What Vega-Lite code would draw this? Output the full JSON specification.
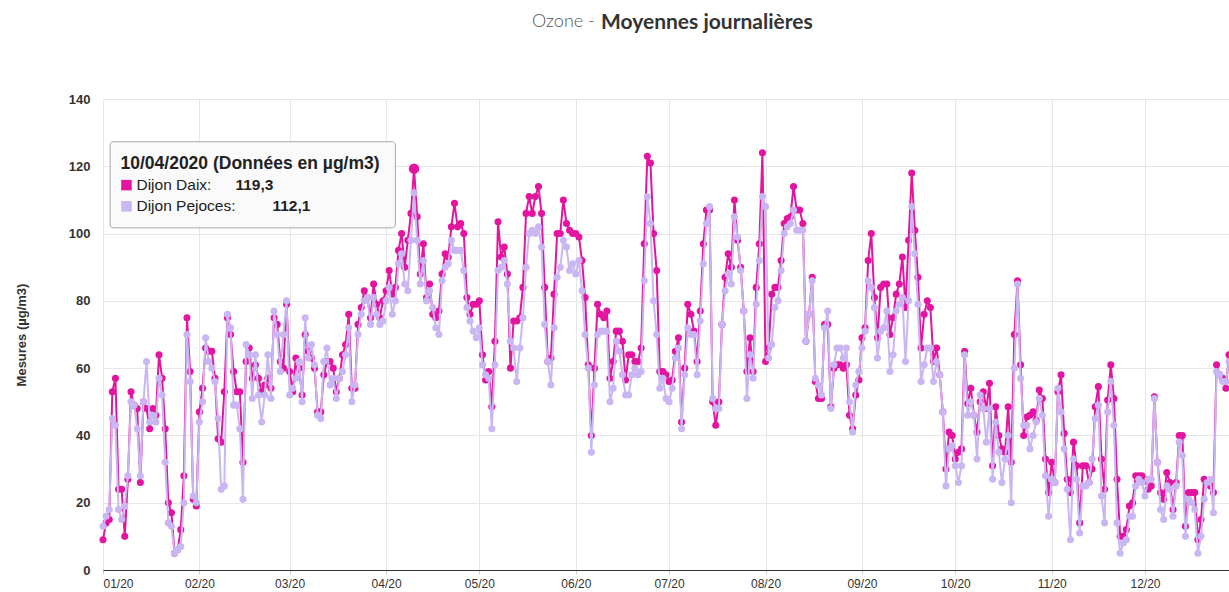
{
  "$schema": "https://vega.github.io/schema/vega-lite/v6.json",
  "width": 1126,
  "height": 471,
  "autosize": {"type": "none"},
  "padding": {"left": 103, "top": 99, "right": 0, "bottom": 22},
  "background": "white",
  "config": {"view": {"stroke": null}, "font": "Liberation Sans"},
  "title": {
    "text": "Moyennes journalières",
    "subtitle": "Ozone -",
    "anchor": "start",
    "frame": "group",
    "dx": 429,
    "offset": 60,
    "font": "Lato",
    "fontSize": 21,
    "fontWeight": "bold",
    "color": "#333333",
    "lineHeight": 22,
    "subtitleFont": "Lato",
    "subtitleFontSize": 18,
    "subtitleFontWeight": 300,
    "subtitleColor": "#555555",
    "subtitleLineHeight": 22,
    "subtitlePadding": -20,
    "encoding": {"dx": {"value": 498}}
  },
  "data": {
    "values": [
      {"date":"2020-01-01","daix":9,"pejoces":13},{"date":"2020-01-02","daix":14,"pejoces":16},{"date":"2020-01-03","daix":15,"pejoces":18},{"date":"2020-01-04","daix":53,"pejoces":45},{"date":"2020-01-05","daix":57,"pejoces":43},{"date":"2020-01-06","daix":24,"pejoces":18},{"date":"2020-01-07","daix":24,"pejoces":15},{"date":"2020-01-08","daix":10,"pejoces":19},{"date":"2020-01-09","daix":27,"pejoces":28},{"date":"2020-01-10","daix":53,"pejoces":50},
      {"date":"2020-01-11","daix":49,"pejoces":49},{"date":"2020-01-12","daix":48,"pejoces":42},{"date":"2020-01-13","daix":26,"pejoces":28},{"date":"2020-01-14","daix":50,"pejoces":50},{"date":"2020-01-15","daix":48,"pejoces":62},{"date":"2020-01-16","daix":42,"pejoces":44},{"date":"2020-01-17","daix":48,"pejoces":46},{"date":"2020-01-18","daix":46,"pejoces":44},{"date":"2020-01-19","daix":64,"pejoces":57},{"date":"2020-01-20","daix":57,"pejoces":52},
      {"date":"2020-01-21","daix":42,"pejoces":32},{"date":"2020-01-22","daix":20,"pejoces":14},{"date":"2020-01-23","daix":17,"pejoces":13},{"date":"2020-01-24","daix":5,"pejoces":5},{"date":"2020-01-25","daix":6,"pejoces":6},{"date":"2020-01-26","daix":12,"pejoces":7},{"date":"2020-01-27","daix":28,"pejoces":20},{"date":"2020-01-28","daix":75,"pejoces":70},{"date":"2020-01-29","daix":59,"pejoces":56},{"date":"2020-01-30","daix":21,"pejoces":22},{"date":"2020-01-31","daix":19,"pejoces":20},
      {"date":"2020-02-01","daix":47,"pejoces":44},{"date":"2020-02-02","daix":54,"pejoces":50},{"date":"2020-02-03","daix":66,"pejoces":69},{"date":"2020-02-04","daix":65,"pejoces":62},{"date":"2020-02-05","daix":65,"pejoces":60},{"date":"2020-02-06","daix":57,"pejoces":56},{"date":"2020-02-07","daix":39,"pejoces":45},{"date":"2020-02-08","daix":38,"pejoces":24},{"date":"2020-02-09","daix":53,"pejoces":25},{"date":"2020-02-10","daix":75,"pejoces":76},
      {"date":"2020-02-11","daix":70,"pejoces":72},{"date":"2020-02-12","daix":59,"pejoces":49},{"date":"2020-02-13","daix":53,"pejoces":49},{"date":"2020-02-14","daix":53,"pejoces":42},{"date":"2020-02-15","daix":32,"pejoces":21},{"date":"2020-02-16","daix":62,"pejoces":67},{"date":"2020-02-17","daix":66,"pejoces":64},{"date":"2020-02-18","daix":57,"pejoces":51},{"date":"2020-02-19","daix":61,"pejoces":64},{"date":"2020-02-20","daix":57,"pejoces":52},
      {"date":"2020-02-21","daix":53,"pejoces":44},{"date":"2020-02-22","daix":55,"pejoces":52},{"date":"2020-02-23","daix":57,"pejoces":64},{"date":"2020-02-24","daix":54,"pejoces":51},{"date":"2020-02-25","daix":75,"pejoces":77},{"date":"2020-02-26","daix":73,"pejoces":70},{"date":"2020-02-27","daix":62,"pejoces":59},{"date":"2020-02-28","daix":60,"pejoces":70},{"date":"2020-02-29","daix":79,"pejoces":80},
      {"date":"2020-03-01","daix":59,"pejoces":52},{"date":"2020-03-02","daix":53,"pejoces":54},{"date":"2020-03-03","daix":63,"pejoces":57},{"date":"2020-03-04","daix":60,"pejoces":62},{"date":"2020-03-05","daix":52,"pejoces":50},{"date":"2020-03-06","daix":70,"pejoces":75},{"date":"2020-03-07","daix":65,"pejoces":63},{"date":"2020-03-08","daix":63,"pejoces":67},{"date":"2020-03-09","daix":60,"pejoces":61},{"date":"2020-03-10","daix":47,"pejoces":46},
      {"date":"2020-03-11","daix":47,"pejoces":45},{"date":"2020-03-12","daix":58,"pejoces":62},{"date":"2020-03-13","daix":62,"pejoces":66},{"date":"2020-03-14","daix":62,"pejoces":55},{"date":"2020-03-15","daix":60,"pejoces":57},{"date":"2020-03-16","daix":53,"pejoces":51},{"date":"2020-03-17","daix":57,"pejoces":57},{"date":"2020-03-18","daix":64,"pejoces":59},{"date":"2020-03-19","daix":67,"pejoces":64},{"date":"2020-03-20","daix":76,"pejoces":72},
      {"date":"2020-03-21","daix":54,"pejoces":50},{"date":"2020-03-22","daix":54,"pejoces":55},{"date":"2020-03-23","daix":73,"pejoces":70},{"date":"2020-03-24","daix":78,"pejoces":76},{"date":"2020-03-25","daix":83,"pejoces":80},{"date":"2020-03-26","daix":81,"pejoces":81},{"date":"2020-03-27","daix":75,"pejoces":73},{"date":"2020-03-28","daix":85,"pejoces":81},{"date":"2020-03-29","daix":79,"pejoces":76},{"date":"2020-03-30","daix":75,"pejoces":73},{"date":"2020-03-31","daix":80,"pejoces":74},
      {"date":"2020-04-01","daix":83,"pejoces":80},{"date":"2020-04-02","daix":89,"pejoces":84},{"date":"2020-04-03","daix":82,"pejoces":76},{"date":"2020-04-04","daix":84,"pejoces":80},{"date":"2020-04-05","daix":95,"pejoces":91},{"date":"2020-04-06","daix":100,"pejoces":94},{"date":"2020-04-07","daix":90,"pejoces":85},{"date":"2020-04-08","daix":98,"pejoces":83},{"date":"2020-04-09","daix":106,"pejoces":98},{"date":"2020-04-10","daix":119.3,"pejoces":112.1},
      {"date":"2020-04-11","daix":105,"pejoces":98},{"date":"2020-04-12","daix":88,"pejoces":85},{"date":"2020-04-13","daix":97,"pejoces":92},{"date":"2020-04-14","daix":81,"pejoces":80},{"date":"2020-04-15","daix":85,"pejoces":83},{"date":"2020-04-16","daix":76,"pejoces":78},{"date":"2020-04-17","daix":75,"pejoces":72},{"date":"2020-04-18","daix":77,"pejoces":70},{"date":"2020-04-19","daix":88,"pejoces":86},{"date":"2020-04-20","daix":94,"pejoces":90},
      {"date":"2020-04-21","daix":93,"pejoces":91},{"date":"2020-04-22","daix":102,"pejoces":98},{"date":"2020-04-23","daix":109,"pejoces":95},{"date":"2020-04-24","daix":102,"pejoces":95},{"date":"2020-04-25","daix":103,"pejoces":95},{"date":"2020-04-26","daix":100,"pejoces":89},{"date":"2020-04-27","daix":81,"pejoces":78},{"date":"2020-04-28","daix":76,"pejoces":74},{"date":"2020-04-29","daix":79,"pejoces":71},{"date":"2020-04-30","daix":79,"pejoces":69},
      {"date":"2020-05-01","daix":80,"pejoces":72},{"date":"2020-05-02","daix":64,"pejoces":61},{"date":"2020-05-03","daix":56.5,"pejoces":58},{"date":"2020-05-04","daix":59,"pejoces":57},{"date":"2020-05-05","daix":48.5,"pejoces":42},{"date":"2020-05-06","daix":68,"pejoces":61},{"date":"2020-05-07","daix":103.5,"pejoces":89},{"date":"2020-05-08","daix":93,"pejoces":90},{"date":"2020-05-09","daix":96,"pejoces":92},{"date":"2020-05-10","daix":88,"pejoces":85},
      {"date":"2020-05-11","daix":60,"pejoces":68},{"date":"2020-05-12","daix":74,"pejoces":66},{"date":"2020-05-13","daix":74,"pejoces":56},{"date":"2020-05-14","daix":75,"pejoces":66},{"date":"2020-05-15","daix":84,"pejoces":75},{"date":"2020-05-16","daix":106,"pejoces":90},{"date":"2020-05-17","daix":111,"pejoces":100},{"date":"2020-05-18","daix":106,"pejoces":101},{"date":"2020-05-19","daix":111,"pejoces":100},{"date":"2020-05-20","daix":114,"pejoces":102},
      {"date":"2020-05-21","daix":106,"pejoces":96},{"date":"2020-05-22","daix":84,"pejoces":73},{"date":"2020-05-23","daix":62,"pejoces":62},{"date":"2020-05-24","daix":63,"pejoces":55},{"date":"2020-05-25","daix":82,"pejoces":72},{"date":"2020-05-26","daix":100,"pejoces":87},{"date":"2020-05-27","daix":100,"pejoces":90},{"date":"2020-05-28","daix":110,"pejoces":98},{"date":"2020-05-29","daix":103,"pejoces":96},{"date":"2020-05-30","daix":101,"pejoces":89},{"date":"2020-05-31","daix":100,"pejoces":91},
      {"date":"2020-06-01","daix":100,"pejoces":88},{"date":"2020-06-02","daix":99,"pejoces":92},{"date":"2020-06-03","daix":92,"pejoces":83},{"date":"2020-06-04","daix":81,"pejoces":70},{"date":"2020-06-05","daix":61,"pejoces":60},{"date":"2020-06-06","daix":40,"pejoces":35},{"date":"2020-06-07","daix":60,"pejoces":55},{"date":"2020-06-08","daix":79,"pejoces":70},{"date":"2020-06-09","daix":76,"pejoces":71},{"date":"2020-06-10","daix":75,"pejoces":71},
      {"date":"2020-06-11","daix":77,"pejoces":71},{"date":"2020-06-12","daix":57,"pejoces":50},{"date":"2020-06-13","daix":62,"pejoces":54},{"date":"2020-06-14","daix":71,"pejoces":68},{"date":"2020-06-15","daix":71,"pejoces":65},{"date":"2020-06-16","daix":68,"pejoces":58},{"date":"2020-06-17","daix":56.5,"pejoces":52},{"date":"2020-06-18","daix":64,"pejoces":52},{"date":"2020-06-19","daix":64,"pejoces":58},{"date":"2020-06-20","daix":62,"pejoces":60},
      {"date":"2020-06-21","daix":62,"pejoces":58},{"date":"2020-06-22","daix":66,"pejoces":59},{"date":"2020-06-23","daix":97,"pejoces":86},{"date":"2020-06-24","daix":123,"pejoces":111},{"date":"2020-06-25","daix":121,"pejoces":103},{"date":"2020-06-26","daix":100,"pejoces":80},{"date":"2020-06-27","daix":89,"pejoces":70},{"date":"2020-06-28","daix":59,"pejoces":54},{"date":"2020-06-29","daix":59,"pejoces":57},{"date":"2020-06-30","daix":58,"pejoces":51},
      {"date":"2020-07-01","daix":56,"pejoces":50},{"date":"2020-07-02","daix":56.5,"pejoces":54},{"date":"2020-07-03","daix":65,"pejoces":63},{"date":"2020-07-04","daix":69,"pejoces":66},{"date":"2020-07-05","daix":44,"pejoces":42},{"date":"2020-07-06","daix":60,"pejoces":58},{"date":"2020-07-07","daix":79,"pejoces":72},{"date":"2020-07-08","daix":76,"pejoces":70},{"date":"2020-07-09","daix":71,"pejoces":70},{"date":"2020-07-10","daix":62,"pejoces":58},
      {"date":"2020-07-11","daix":77,"pejoces":74},{"date":"2020-07-12","daix":97,"pejoces":91},{"date":"2020-07-13","daix":107,"pejoces":103},{"date":"2020-07-14","daix":107,"pejoces":108},{"date":"2020-07-15","daix":50,"pejoces":51},{"date":"2020-07-16","daix":43,"pejoces":48},{"date":"2020-07-17","daix":50,"pejoces":48},{"date":"2020-07-18","daix":73,"pejoces":73},{"date":"2020-07-19","daix":87,"pejoces":83},{"date":"2020-07-20","daix":94,"pejoces":88},
      {"date":"2020-07-21","daix":90,"pejoces":85},{"date":"2020-07-22","daix":110,"pejoces":105},{"date":"2020-07-23","daix":98,"pejoces":99},{"date":"2020-07-24","daix":90,"pejoces":89},{"date":"2020-07-25","daix":77,"pejoces":77},{"date":"2020-07-26","daix":59,"pejoces":51},{"date":"2020-07-27","daix":69,"pejoces":64},{"date":"2020-07-28","daix":59,"pejoces":57},{"date":"2020-07-29","daix":84,"pejoces":79},{"date":"2020-07-30","daix":97,"pejoces":92},{"date":"2020-07-31","daix":124,"pejoces":111},
      {"date":"2020-08-01","daix":62,"pejoces":108},{"date":"2020-08-02","daix":66,"pejoces":63},{"date":"2020-08-03","daix":82,"pejoces":67},{"date":"2020-08-04","daix":84,"pejoces":78},{"date":"2020-08-05","daix":84,"pejoces":80},{"date":"2020-08-06","daix":92,"pejoces":89},{"date":"2020-08-07","daix":103,"pejoces":100},{"date":"2020-08-08","daix":104.5,"pejoces":102},{"date":"2020-08-09","daix":105,"pejoces":103},{"date":"2020-08-10","daix":114,"pejoces":107},
      {"date":"2020-08-11","daix":107,"pejoces":101},{"date":"2020-08-12","daix":107,"pejoces":101},{"date":"2020-08-13","daix":103,"pejoces":101},{"date":"2020-08-14","daix":68,"pejoces":68},{"date":"2020-08-15","daix":76,"pejoces":76},{"date":"2020-08-16","daix":87,"pejoces":86},{"date":"2020-08-17","daix":56,"pejoces":57},{"date":"2020-08-18","daix":51,"pejoces":55},{"date":"2020-08-19","daix":51,"pejoces":52},{"date":"2020-08-20","daix":73,"pejoces":72},
      {"date":"2020-08-21","daix":73,"pejoces":77},{"date":"2020-08-22","daix":48.5,"pejoces":48},{"date":"2020-08-23","daix":60,"pejoces":61},{"date":"2020-08-24","daix":61,"pejoces":66},{"date":"2020-08-25","daix":61,"pejoces":66},{"date":"2020-08-26","daix":60,"pejoces":63},{"date":"2020-08-27","daix":61,"pejoces":66},{"date":"2020-08-28","daix":46,"pejoces":50},{"date":"2020-08-29","daix":42,"pejoces":41},{"date":"2020-08-30","daix":52,"pejoces":55},{"date":"2020-08-31","daix":56.5,"pejoces":59},
      {"date":"2020-09-01","daix":69,"pejoces":66},{"date":"2020-09-02","daix":72,"pejoces":71},{"date":"2020-09-03","daix":92,"pejoces":86},{"date":"2020-09-04","daix":100,"pejoces":84},{"date":"2020-09-05","daix":81,"pejoces":78},{"date":"2020-09-06","daix":69,"pejoces":63},{"date":"2020-09-07","daix":84,"pejoces":71},{"date":"2020-09-08","daix":85,"pejoces":72},{"date":"2020-09-09","daix":85,"pejoces":77},{"date":"2020-09-10","daix":70,"pejoces":59},
      {"date":"2020-09-11","daix":75,"pejoces":64},{"date":"2020-09-12","daix":82,"pejoces":77},{"date":"2020-09-13","daix":85,"pejoces":79},{"date":"2020-09-14","daix":93,"pejoces":81},{"date":"2020-09-15","daix":78,"pejoces":62},{"date":"2020-09-16","daix":98,"pejoces":80},{"date":"2020-09-17","daix":118,"pejoces":108},{"date":"2020-09-18","daix":101,"pejoces":94},{"date":"2020-09-19","daix":87,"pejoces":79},{"date":"2020-09-20","daix":66,"pejoces":56},
      {"date":"2020-09-21","daix":76,"pejoces":61},{"date":"2020-09-22","daix":80,"pejoces":66},{"date":"2020-09-23","daix":78,"pejoces":66},{"date":"2020-09-24","daix":62,"pejoces":56},{"date":"2020-09-25","daix":66,"pejoces":62},{"date":"2020-09-26","daix":58,"pejoces":58},{"date":"2020-09-27","daix":47,"pejoces":47},{"date":"2020-09-28","daix":30,"pejoces":25},{"date":"2020-09-29","daix":41,"pejoces":36},{"date":"2020-09-30","daix":40,"pejoces":37},
      {"date":"2020-10-01","daix":33,"pejoces":31},{"date":"2020-10-02","daix":35,"pejoces":26},{"date":"2020-10-03","daix":36,"pejoces":31},{"date":"2020-10-04","daix":65,"pejoces":64},{"date":"2020-10-05","daix":49.5,"pejoces":46},{"date":"2020-10-06","daix":54,"pejoces":50},{"date":"2020-10-07","daix":46,"pejoces":46},{"date":"2020-10-08","daix":41,"pejoces":33},{"date":"2020-10-09","daix":50,"pejoces":52},{"date":"2020-10-10","daix":53,"pejoces":48},
      {"date":"2020-10-11","daix":48,"pejoces":38},{"date":"2020-10-12","daix":55.5,"pejoces":48},{"date":"2020-10-13","daix":31,"pejoces":27},{"date":"2020-10-14","daix":48.5,"pejoces":44},{"date":"2020-10-15","daix":40,"pejoces":35},{"date":"2020-10-16","daix":36,"pejoces":26},{"date":"2020-10-17","daix":35,"pejoces":33},{"date":"2020-10-18","daix":48.5,"pejoces":40},{"date":"2020-10-19","daix":32,"pejoces":20},{"date":"2020-10-20","daix":70,"pejoces":60},
      {"date":"2020-10-21","daix":86,"pejoces":85},{"date":"2020-10-22","daix":61,"pejoces":57},{"date":"2020-10-23","daix":40,"pejoces":43},{"date":"2020-10-24","daix":45.5,"pejoces":43},{"date":"2020-10-25","daix":46,"pejoces":36},{"date":"2020-10-26","daix":47,"pejoces":40},{"date":"2020-10-27","daix":44.5,"pejoces":44},{"date":"2020-10-28","daix":53.5,"pejoces":51},{"date":"2020-10-29","daix":51,"pejoces":46},{"date":"2020-10-30","daix":33,"pejoces":28},{"date":"2020-10-31","daix":23,"pejoces":16},
      {"date":"2020-11-01","daix":32,"pejoces":27},{"date":"2020-11-02","daix":26,"pejoces":26},{"date":"2020-11-03","daix":53,"pejoces":54},{"date":"2020-11-04","daix":58,"pejoces":47},{"date":"2020-11-05","daix":40.6,"pejoces":36},{"date":"2020-11-06","daix":27,"pejoces":24},{"date":"2020-11-07","daix":23,"pejoces":9},{"date":"2020-11-08","daix":38,"pejoces":33},{"date":"2020-11-09","daix":31,"pejoces":27},{"date":"2020-11-10","daix":14,"pejoces":11},
      {"date":"2020-11-11","daix":31,"pejoces":25},{"date":"2020-11-12","daix":31,"pejoces":25},{"date":"2020-11-13","daix":26,"pejoces":26},{"date":"2020-11-14","daix":30,"pejoces":33},{"date":"2020-11-15","daix":48.5,"pejoces":45},{"date":"2020-11-16","daix":54.5,"pejoces":49},{"date":"2020-11-17","daix":33,"pejoces":22},{"date":"2020-11-18","daix":24,"pejoces":14},{"date":"2020-11-19","daix":50.5,"pejoces":47},{"date":"2020-11-20","daix":61,"pejoces":56},
      {"date":"2020-11-21","daix":51,"pejoces":43},{"date":"2020-11-22","daix":27,"pejoces":14},{"date":"2020-11-23","daix":10,"pejoces":5},{"date":"2020-11-24","daix":10,"pejoces":8},{"date":"2020-11-25","daix":12,"pejoces":9},{"date":"2020-11-26","daix":19,"pejoces":16},{"date":"2020-11-27","daix":20,"pejoces":16},{"date":"2020-11-28","daix":28,"pejoces":25},{"date":"2020-11-29","daix":28,"pejoces":27},{"date":"2020-11-30","daix":28,"pejoces":26},
      {"date":"2020-12-01","daix":27,"pejoces":22},{"date":"2020-12-02","daix":24,"pejoces":27},{"date":"2020-12-03","daix":25,"pejoces":27},{"date":"2020-12-04","daix":51.5,"pejoces":51},{"date":"2020-12-05","daix":32,"pejoces":32},{"date":"2020-12-06","daix":23,"pejoces":18},{"date":"2020-12-07","daix":21,"pejoces":15},{"date":"2020-12-08","daix":29,"pejoces":25},{"date":"2020-12-09","daix":26,"pejoces":24},{"date":"2020-12-10","daix":18,"pejoces":16},
      {"date":"2020-12-11","daix":26,"pejoces":25},{"date":"2020-12-12","daix":40,"pejoces":38},{"date":"2020-12-13","daix":40,"pejoces":34},{"date":"2020-12-14","daix":13,"pejoces":10},{"date":"2020-12-15","daix":23,"pejoces":21},{"date":"2020-12-16","daix":23,"pejoces":20},{"date":"2020-12-17","daix":23,"pejoces":18},{"date":"2020-12-18","daix":9,"pejoces":5},{"date":"2020-12-19","daix":15,"pejoces":10},{"date":"2020-12-20","daix":27,"pejoces":21},
      {"date":"2020-12-21","daix":26,"pejoces":26},{"date":"2020-12-22","daix":25,"pejoces":27},{"date":"2020-12-23","daix":23,"pejoces":17},{"date":"2020-12-24","daix":61,"pejoces":59},{"date":"2020-12-25","daix":58,"pejoces":58},{"date":"2020-12-26","daix":57,"pejoces":56},{"date":"2020-12-27","daix":54,"pejoces":56},{"date":"2020-12-28","daix":64,"pejoces":62}
    ]
  },
  "layer": [
    {
      "transform": [
        {"fold": ["daix", "pejoces"], "as": ["series", "value"]},
        {"filter": "datum.series == 'daix'"}
      ],
      "mark": {
        "type": "line",
        "color": "#e3149f",
        "strokeWidth": 2,
        "point": {"filled": true, "size": 50, "color": "#e3149f", "opacity": 1}
      },
      "encoding": {
        "x": {
          "field": "date",
          "type": "temporal",
          "scale": {
            "type": "utc",
            "domain": [
              {"year": 2020, "month": 1, "date": 1, "utc": true},
              {"year": 2020, "month": 12, "date": 28, "utc": true}
            ]
          },
          "axis": {
            "title": null,
            "format": "%m/%y",
            "tickCount": {"interval": "month", "step": 1},
            "labelFlush": true,
            "labelFontSize": 12,
            "labelColor": "#333333",
            "labelPadding": 4,
            "grid": true,
            "gridColor": "#e6e6e6",
            "domainColor": "#333333",
            "tickColor": "#cccccc",
            "tickSize": 4
          }
        },
        "y": {
          "field": "value",
          "type": "quantitative",
          "scale": {"domain": [0, 140], "nice": false},
          "axis": {
            "title": "Mesures (µg/m3)",
            "titleFontSize": 13,
            "titleFontWeight": "bold",
            "titleColor": "#333333",
            "titlePadding": 40,
            "values": [0, 10, 20, 30, 40, 50, 60, 70, 80, 90, 100, 110, 120, 130, 140],
            "labelExpr": "datum.value % 20 == 0 ? datum.label : ''",
            "labelFontSize": 13,
            "labelFontWeight": "bold",
            "labelColor": "#333333",
            "labelPadding": 13,
            "ticks": false,
            "domain": false,
            "grid": true,
            "gridColor": "#e6e6e6"
          }
        }
      }
    },
    {
      "transform": [
        {"fold": ["daix", "pejoces"], "as": ["series", "value"]},
        {"filter": "datum.series == 'pejoces'"}
      ],
      "mark": {
        "type": "line",
        "color": "#c9b6f2",
        "strokeWidth": 2,
        "point": {"filled": true, "size": 50, "color": "#c9b6f2", "opacity": 1}
      },
      "encoding": {
        "x": {"field": "date", "type": "temporal"},
        "y": {"field": "value", "type": "quantitative"}
      }
    },
    {
      "transform": [
        {"fold": ["daix"], "as": ["series", "value"]},
        {"filter": "utcmonth(datum.date) == 3 && utcdate(datum.date) == 10"}
      ],
      "mark": {"type": "point", "filled": true, "size": 110, "opacity": 1, "color": "#e3149f"},
      "encoding": {
        "x": {"field": "date", "type": "temporal"},
        "y": {"field": "value", "type": "quantitative"}
      }
    },
    {
      "data": {"values": [{"label": "box"}]},
      "mark": {"type": "rect", "fill": "#fafafa", "fillOpacity": 0.92, "stroke": "#a8a8a8", "strokeWidth": 1, "cornerRadius": 3},
      "encoding": {
        "x": {"datum": {"year": 2020, "month": 1, "date": 3, "hours": 7, "utc": true}, "type": "temporal"},
        "x2": {"datum": {"year": 2020, "month": 4, "date": 4, "hours": 0, "utc": true}},
        "y": {"datum": 127.3, "type": "quantitative"},
        "y2": {"datum": 101.7}
      }
    },
    {
      "data": {"values": [{"label": "10/04/2020 (Données en µg/m3)"}]},
      "mark": {"type": "text", "align": "left", "baseline": "middle", "fontSize": 17.5, "fontWeight": "bold", "color": "#222222"},
      "encoding": {
        "x": {"datum": {"year": 2020, "month": 1, "date": 6, "hours": 15, "utc": true}, "type": "temporal"},
        "y": {"datum": 120.7, "type": "quantitative"},
        "text": {"field": "label"}
      }
    },
    {
      "data": {"values": [{"label": "Dijon Daix"}]},
      "mark": {"type": "point", "shape": "square", "filled": true, "size": 110, "color": "#e3149f", "opacity": 1},
      "encoding": {
        "x": {"datum": {"year": 2020, "month": 1, "date": 8, "hours": 13, "utc": true}, "type": "temporal"},
        "y": {"datum": 114.4, "type": "quantitative"}
      }
    },
    {
      "data": {"values": [{"label": "Dijon Pejoces"}]},
      "mark": {"type": "point", "shape": "square", "filled": true, "size": 110, "color": "#c9b6f2", "opacity": 1},
      "encoding": {
        "x": {"datum": {"year": 2020, "month": 1, "date": 8, "hours": 13, "utc": true}, "type": "temporal"},
        "y": {"datum": 108.1, "type": "quantitative"}
      }
    },
    {
      "data": {"values": [{"label": "Dijon Daix:"}]},
      "mark": {"type": "text", "align": "left", "baseline": "middle", "fontSize": 15.5, "color": "#222222"},
      "encoding": {
        "x": {"datum": {"year": 2020, "month": 1, "date": 11, "hours": 18, "utc": true}, "type": "temporal"},
        "y": {"datum": 114.4, "type": "quantitative"},
        "text": {"field": "label"}
      }
    },
    {
      "data": {"values": [{"label": "119,3"}]},
      "mark": {"type": "text", "align": "left", "baseline": "middle", "fontSize": 15.5, "fontWeight": "bold", "color": "#222222"},
      "encoding": {
        "x": {"datum": {"year": 2020, "month": 2, "date": 12, "hours": 14, "utc": true}, "type": "temporal"},
        "y": {"datum": 114.4, "type": "quantitative"},
        "text": {"field": "label"}
      }
    },
    {
      "data": {"values": [{"label": "Dijon Pejoces:"}]},
      "mark": {"type": "text", "align": "left", "baseline": "middle", "fontSize": 15.5, "color": "#222222"},
      "encoding": {
        "x": {"datum": {"year": 2020, "month": 1, "date": 11, "hours": 18, "utc": true}, "type": "temporal"},
        "y": {"datum": 108.1, "type": "quantitative"},
        "text": {"field": "label"}
      }
    },
    {
      "data": {"values": [{"label": "112,1"}]},
      "mark": {"type": "text", "align": "left", "baseline": "middle", "fontSize": 15.5, "fontWeight": "bold", "color": "#222222"},
      "encoding": {
        "x": {"datum": {"year": 2020, "month": 2, "date": 24, "hours": 11, "utc": true}, "type": "temporal"},
        "y": {"datum": 108.1, "type": "quantitative"},
        "text": {"field": "label"}
      }
    }
  ]
}
